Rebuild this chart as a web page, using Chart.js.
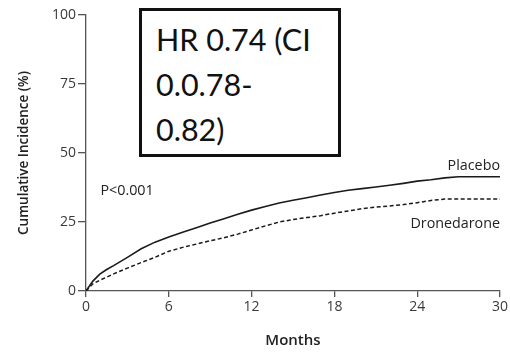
<!DOCTYPE html>
<html>
<head>
<meta charset="utf-8">
<script src="https://cdn.jsdelivr.net/npm/chart.js@4"></script>
<style>
  html, body { margin: 0; padding: 0; background: #fff; }
  #wrap { position: relative; width: 510px; height: 354px; }
  #hrBox {
    position: absolute; left: 139px; top: 8px;
    width: 202px; height: 149px;
    border: 3px solid #111; background: #fff;
    font-family: Lato, "Liberation Sans", sans-serif; font-size: 30.5px;
    line-height: 45px; color: #111;
    padding: 6px 0 0 14px; box-sizing: border-box;
  }
</style>
</head>
<body>
<div id="wrap">
  <canvas id="kmChart" width="510" height="354"></canvas>
  <div id="hrBox">HR 0.74 (CI<br>0.0.78-<br>0.82)</div>
</div>
<script>
// months on the x axis
const months = [0, 0.5, 1, 1.5, 2, 3, 4, 5, 6, 7, 8, 9, 10, 11, 12, 13, 14, 15, 16, 17, 18, 19, 20, 21, 22, 23, 24, 25, 26, 27, 28, 29, 30];
// cumulative incidence (%)
const placebo = [0, 3.6, 6.1, 7.8, 9.2, 12.2, 15.3, 17.7, 19.6, 21.3, 22.9, 24.6, 26.2, 27.8, 29.3, 30.6, 31.9, 32.9, 33.8, 34.8, 35.7, 36.5, 37.1, 37.7, 38.3, 39.0, 39.8, 40.3, 41.0, 41.4, 41.4, 41.4, 41.4];
const dronedarone = [0, 2.6, 3.9, 5.0, 6.2, 8.3, 10.3, 12.2, 14.4, 15.8, 17.0, 18.2, 19.3, 20.6, 22.1, 23.6, 25.0, 25.9, 26.6, 27.3, 28.2, 29.0, 29.8, 30.4, 30.8, 31.3, 32.0, 32.8, 33.3, 33.3, 33.3, 33.3, 33.3];

const xTicks = [0, 6, 12, 18, 24, 30];
const yTicks = [0, 25, 50, 75, 100];

const FONT = "'Open Sans', 'DejaVu Sans', sans-serif";
const axisColor = '#555';

function toPoints(ys) {
    return months.map((m, i) => ({ x: m, y: ys[i] }));
}

// curve labels and p value, placed through the scales
const curveLabels = {
    id: 'curveLabels',
    afterDatasetsDraw(chart) {
        const { ctx, scales: { x, y } } = chart;
        ctx.save();
        ctx.fillStyle = '#222';
        ctx.font = "14.3px " + FONT;
        ctx.textBaseline = 'alphabetic';
        ctx.textAlign = 'right';
        ctx.fillText('Placebo', x.getPixelForValue(30), y.getPixelForValue(43.8));
        ctx.fillText('Dronedarone', x.getPixelForValue(30), y.getPixelForValue(22.8));
        ctx.textAlign = 'left';
        ctx.fillText('P<0.001', x.getPixelForValue(1.05), y.getPixelForValue(34.7));
        ctx.restore();
    }
};

new Chart(document.getElementById('kmChart'), {
    type: 'line',
    data: {
        datasets: [{
            label: 'Placebo',
            data: toPoints(placebo),
            borderColor: '#1a1a1a',
            borderWidth: 1.6,
            pointRadius: 0,
            tension: 0
        }, {
            label: 'Dronedarone',
            data: toPoints(dronedarone),
            borderColor: '#1a1a1a',
            borderWidth: 1.5,
            borderDash: [4, 2.5],
            pointRadius: 0,
            tension: 0
        }]
    },
    options: {
        responsive: false,
        animation: false,
        layout: { padding: { top: 15, right: 10, bottom: 0, left: 0 } },
        plugins: { legend: { display: false }, tooltip: { enabled: false } },
        scales: {
            x: {
                type: 'linear', min: 0, max: 30,
                afterBuildTicks: s => { s.ticks = xTicks.map(v => ({ value: v })); },
                afterFit: s => { s.height = 63; },
                grid: { drawOnChartArea: false, tickLength: 6, color: axisColor, lineWidth: 1.3 },
                border: { color: axisColor, width: 1.3 },
                ticks: { color: '#3a3a3a', font: { family: FONT, size: 14 }, padding: 2, maxRotation: 0 },
                title: { display: true, text: 'Months', color: '#222', font: { family: FONT, size: 15, weight: '600' }, padding: { top: 5, bottom: 4 } }
            },
            y: {
                min: 0, max: 100,
                afterBuildTicks: s => { s.ticks = yTicks.map(v => ({ value: v })); },
                afterFit: s => { s.width = 86; },
                grid: { drawOnChartArea: false, tickLength: 8, color: axisColor, lineWidth: 1.3 },
                border: { color: axisColor, width: 1.3 },
                ticks: { color: '#3a3a3a', font: { family: FONT, size: 14 }, padding: 2 },
                title: { display: true, text: 'Cumulative Incidence (%)', color: '#222', font: { family: FONT, size: 13.5, weight: '600' }, padding: { top: 16, bottom: 0 } }
            }
        }
    },
    plugins: [curveLabels]
});
</script>
</body>
</html>
